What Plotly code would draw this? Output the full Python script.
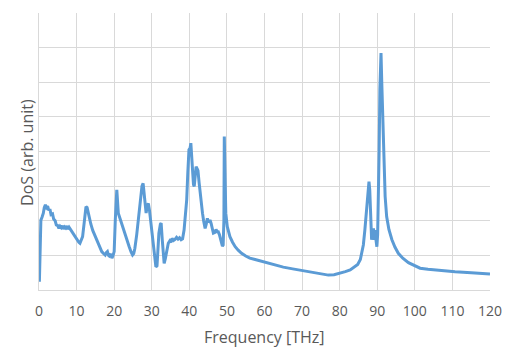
import plotly.graph_objects as go

freq = [0.1, 0.3, 0.5, 0.8, 1.15, 1.4, 1.7, 2.0, 2.3, 2.6, 2.9, 3.2, 3.6, 3.9, 4.3, 4.6, 5.0, 5.3, 5.6, 5.9,
        6.2, 6.5, 6.8, 7.1, 7.4, 7.7, 8.0, 8.5, 8.9, 9.4, 9.8, 10.3, 10.6, 10.9, 11.3, 11.6, 12.1, 12.5, 12.8, 13.2,
        13.8, 14.3, 14.9, 15.4, 15.8, 16.3, 16.7, 17.1, 17.6, 17.9, 18.2, 18.5, 18.7, 19.1, 19.4, 19.7, 20.0, 20.3, 20.7, 21.1,
        21.5, 22.0, 22.5, 22.9, 23.5, 24.0, 24.5, 24.9, 25.2, 25.5, 26.0, 26.4, 26.8, 27.1, 27.4, 27.7, 28.0, 28.2, 28.5, 28.8,
        29.1, 29.4, 29.7, 30.0, 30.4, 30.8, 31.1, 31.4, 31.7, 31.9, 32.3, 32.5, 32.8, 33.1, 33.3, 33.6, 33.9, 34.2, 34.4, 34.8,
        35.1, 35.4, 35.8, 36.2, 36.6, 37.0, 37.4, 37.8, 38.2, 38.6, 39.0, 39.3, 39.6, 39.9, 40.2, 40.4, 40.6, 40.8, 41.1, 41.3,
        41.6, 41.8, 42.1, 42.3, 42.6, 42.8, 43.1, 43.5, 43.8, 44.2, 44.5, 44.8, 45.1, 45.5, 45.8, 46.1, 46.4, 46.8, 47.1, 47.4,
        47.7, 48.0, 48.4, 48.8, 49.0, 49.2, 49.3, 49.5, 49.7, 50.1, 50.5, 50.8, 51.5, 52.2, 53.0, 53.9, 55.0, 56.1, 57.5, 58.8,
        60.0, 61.5, 63.0, 65.0, 67.5, 70.0, 73.0, 75.5, 77.0, 78.5, 80.0, 81.5, 82.8, 84.0, 84.8, 85.5, 85.9, 86.3, 86.7, 87.1,
        87.4, 87.8, 88.0, 88.3, 88.5, 88.7, 89.0, 89.2, 89.4, 89.6, 89.9, 90.1, 90.3, 90.5, 90.7, 90.85, 91.0, 91.2, 91.4, 91.6,
        91.8, 92.1, 92.5, 93.1, 93.9, 94.7, 95.6, 96.8, 98.3, 100.0, 101.4, 103.5, 105.4, 108.0, 110.7, 115.0, 120.0]
dos = [0.24, 1.2, 2.02, 2.1, 2.22, 2.38, 2.46, 2.38, 2.42, 2.3, 2.34, 2.18, 2.2, 2.05, 2.0, 1.88, 1.86, 1.78, 1.84, 1.8,
       1.86, 1.76, 1.82, 1.79, 1.85, 1.76, 1.81, 1.73, 1.66, 1.56, 1.5, 1.42, 1.38, 1.35, 1.45, 1.54, 2.02, 2.41, 2.38, 2.15,
       1.9, 1.72, 1.56, 1.46, 1.35, 1.22, 1.11, 1.06, 1.01, 1.08, 1.11, 1.0, 0.98, 1.04, 0.92, 1.0, 1.11, 2.02, 2.89, 2.22,
       2.08, 1.93, 1.8, 1.64, 1.44, 1.25, 1.1, 1.01, 1.05, 1.2, 1.6, 2.02, 2.5, 2.89, 3.0, 3.08, 2.8, 2.5, 2.22, 2.42,
       2.5, 2.3, 2.02, 1.7, 1.35, 0.9, 0.67, 0.7, 1.3, 1.64, 1.9, 1.93, 1.45, 0.95, 0.77, 0.9, 1.06, 1.3, 1.35, 1.42,
       1.38, 1.49, 1.43, 1.46, 1.52, 1.47, 1.51, 1.45, 1.48, 1.73, 2.2, 2.6, 3.4, 4.05, 4.1, 4.24, 3.9, 3.37, 3.05, 2.99,
       3.3, 3.56, 3.5, 3.45, 3.1, 2.89, 2.5, 2.22, 2.0, 1.78, 1.9, 2.07, 1.95, 2.02, 1.92, 1.75, 1.64, 1.66, 1.75, 1.68,
       1.68, 1.6, 1.4, 1.27, 1.3, 2.02, 4.43, 3.4, 2.22, 1.83, 1.65, 1.54, 1.38, 1.25, 1.15, 1.06, 0.98, 0.92, 0.88, 0.84,
       0.8, 0.75, 0.71, 0.66, 0.61, 0.56, 0.5, 0.45, 0.43, 0.44, 0.48, 0.53, 0.58, 0.67, 0.74, 0.88, 1.06, 1.3, 1.73, 2.3,
       2.6, 3.13, 2.9, 2.22, 1.45, 1.6, 1.78, 1.45, 1.73, 1.5, 1.25, 1.6, 2.41, 4.0, 5.78, 6.6, 6.84, 6.0, 5.3, 4.3,
       3.37, 2.7, 2.12, 1.75, 1.45, 1.24, 1.06, 0.92, 0.79, 0.7, 0.63, 0.6, 0.58, 0.55, 0.53, 0.5, 0.46]

x_ticks = list(range(0, 121, 10))
x_title = "Frequency [THz]"
y_title = "DoS (arb. unit)"

fig = go.Figure()
fig.add_trace(go.Scatter(x=freq, y=dos, mode="lines",
                         line=dict(color="#5B9BD5", width=3), showlegend=False))

fig.update_layout(
    width=515, height=362,
    margin=dict(l=31, r=33, t=5, b=80),
    paper_bgcolor="white", plot_bgcolor="white",
    font=dict(family="Open Sans, sans-serif", color="#595959"),
    xaxis=dict(range=[0, 120], tickvals=x_ticks, ticktext=[str(v) for v in x_ticks],
               showgrid=True, gridcolor="#d9d9d9", gridwidth=1, automargin=False,
               zeroline=False, showline=True, linecolor="#d9d9d9", linewidth=1,
               ticks="", ticklabelstandoff=8, tickfont=dict(size=14, color="#595959")),
    yaxis=dict(range=[0, 8], dtick=1, showticklabels=False, automargin=False,
               showgrid=True, gridcolor="#d9d9d9", gridwidth=1,
               zeroline=False, showline=True, linecolor="#d9d9d9", linewidth=1,
               ticks=""),
    annotations=[
        dict(text=x_title, x=0.499, y=-0.17, xref="paper", yref="paper",
             xanchor="center", yanchor="middle", showarrow=False,
             font=dict(size=16, color="#595959")),
        dict(text=y_title, x=-0.0266, y=0.495, xref="paper", yref="paper",
             xanchor="center", yanchor="middle", textangle=-90, showarrow=False,
             font=dict(size=16, color="#595959")),
    ],
)

fig.write_html("out.html")
